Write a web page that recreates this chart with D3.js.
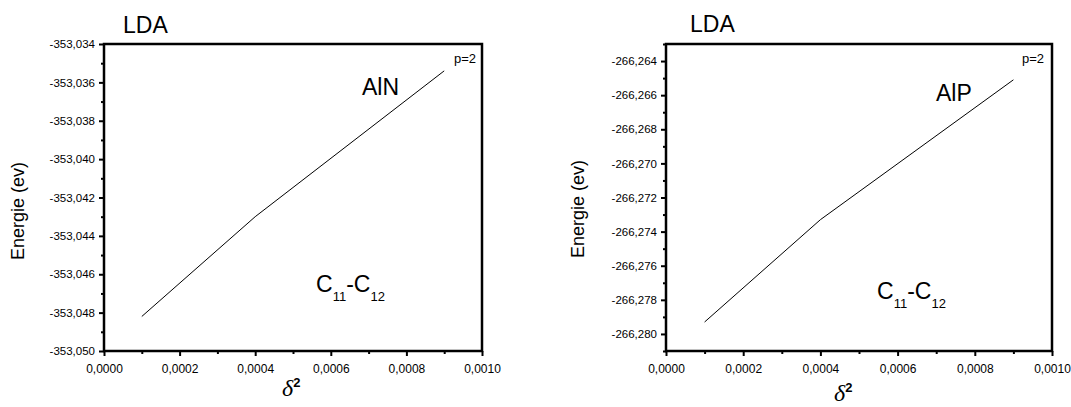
<!DOCTYPE html>
<html>
<head>
<meta charset="utf-8">
<script src="https://cdn.jsdelivr.net/npm/d3@7"></script>
<style>
  html, body { margin: 0; padding: 0; background: #fff; }
  svg { display: block; }
  text { font-family: "Liberation Sans", Arial, sans-serif; fill: #000; }
</style>
</head>
<body>
<svg id="chart" width="1071" height="407"></svg>
<script>
// Strain energy vs delta^2 (C11 - C12 deformation), LDA, p = 2
const deltaSq = [0.0001, 0.0004, 0.0009];
const energyAlN = [-353.0482, -353.0430, -353.0354];
const energyAlP = [-266.2793, -266.2733, -266.2651];

const xTicks = [0, 0.0002, 0.0004, 0.0006, 0.0008, 0.0010];
const xMinor = [0.0001, 0.0003, 0.0005, 0.0007, 0.0009];
const yTicksAlN = [-353.050, -353.048, -353.046, -353.044, -353.042, -353.040, -353.038, -353.036, -353.034];
const yMinorAlN = [-353.049, -353.047, -353.045, -353.043, -353.041, -353.039, -353.037, -353.035];
const yTicksAlP = [-266.280, -266.278, -266.276, -266.274, -266.272, -266.270, -266.268, -266.266, -266.264];
const yMinorAlP = [-266.281, -266.279, -266.277, -266.275, -266.273, -266.271, -266.269, -266.267, -266.265, -266.263];

const locale = d3.formatLocale({ decimal: ",", thousands: ".", grouping: [3], currency: ["", ""], minus: "-" });
const fmtY = locale.format(".3f");
const fmtX = locale.format(".4f");

const svg = d3.select("#chart");

const panels = [
  {
    left: 104, right: 482, top: 44, bottom: 351,
    yDomain: [-353.050, -353.034], yTicks: yTicksAlN, yMinor: yMinorAlN,
    values: energyAlN, name: "AlN",
    title: [123, 32.5], nameAt: [362, 95], pAt: [454, 62.5], cAt: [316, 291.5],
    yLabelX: 24, yLabelY: 211, deltaAt: [282, 396]
  },
  {
    left: 666, right: 1052, top: 44, bottom: 351,
    yDomain: [-266.281, -266.263], yTicks: yTicksAlP, yMinor: yMinorAlP,
    values: energyAlP, name: "AlP",
    title: [690, 32], nameAt: [936, 100.5], pAt: [1022, 63], cAt: [877, 298.5],
    yLabelX: 584, yLabelY: 209, deltaAt: [834, 401]
  }
];

panels.forEach(p => {
  const x = d3.scaleLinear().domain([0, 0.001]).range([p.left, p.right]);
  const y = d3.scaleLinear().domain(p.yDomain).range([p.bottom, p.top]);
  const g = svg.append("g");

  // minor ticks
  g.append("g")
    .attr("transform", `translate(0,${p.bottom})`)
    .call(d3.axisBottom(x).tickValues(xMinor).tickSize(3).tickFormat(""))
    .call(a => a.select(".domain").remove())
    .call(a => a.selectAll("line").attr("stroke-width", 2));
  g.append("g")
    .attr("transform", `translate(${p.left},0)`)
    .call(d3.axisLeft(y).tickValues(p.yMinor).tickSize(3).tickFormat(""))
    .call(a => a.select(".domain").remove())
    .call(a => a.selectAll("line").attr("stroke-width", 2));

  // major ticks with labels
  g.append("g")
    .attr("transform", `translate(0,${p.bottom})`)
    .call(d3.axisBottom(x).tickValues(xTicks).tickSize(5).tickPadding(8).tickFormat(fmtX))
    .call(a => a.select(".domain").remove())
    .call(a => a.selectAll("line").attr("stroke-width", 2))
    .call(a => a.selectAll("text").attr("font-size", 12).attr("fill", "#111")
      .attr("font-family", "'Liberation Sans', Arial, sans-serif"));
  g.append("g")
    .attr("transform", `translate(${p.left},0)`)
    .call(d3.axisLeft(y).tickValues(p.yTicks).tickSize(5).tickPadding(4).tickFormat(fmtY))
    .call(a => a.select(".domain").remove())
    .call(a => a.selectAll("line").attr("stroke-width", 2))
    .call(a => a.selectAll("text").attr("font-size", 11.5).attr("fill", "#111")
      .attr("font-family", "'Liberation Sans', Arial, sans-serif"));

  // frame
  g.append("rect")
    .attr("x", p.left).attr("y", p.top)
    .attr("width", p.right - p.left).attr("height", p.bottom - p.top)
    .attr("fill", "none").attr("stroke", "#000").attr("stroke-width", 2.5);

  // energy curve
  const line = d3.line().x((d, i) => x(deltaSq[i])).y(d => y(d));
  g.append("path")
    .datum(p.values)
    .attr("d", line)
    .attr("fill", "none").attr("stroke", "#000").attr("stroke-width", 1);

  // annotations
  g.append("text").attr("x", p.title[0]).attr("y", p.title[1])
    .attr("font-size", 23).text("LDA");
  g.append("text").attr("x", p.nameAt[0]).attr("y", p.nameAt[1])
    .attr("font-size", 23).text(p.name);
  g.append("text").attr("x", p.pAt[0]).attr("y", p.pAt[1])
    .attr("font-size", 13).text("p=2");

  const c = g.append("text").attr("x", p.cAt[0]).attr("y", p.cAt[1]).attr("font-size", 23);
  c.append("tspan").text("C");
  c.append("tspan").attr("font-size", 13).attr("dy", 9).text("11");
  c.append("tspan").attr("dy", -9).text("-C");
  c.append("tspan").attr("font-size", 13).attr("dy", 9).text("12");

  // axis titles
  g.append("text")
    .attr("transform", `translate(${p.yLabelX},${p.yLabelY}) rotate(-90)`)
    .attr("text-anchor", "middle").attr("font-size", 18)
    .text("Energie (ev)");

  const dl = g.append("text").attr("x", p.deltaAt[0]).attr("y", p.deltaAt[1]);
  dl.append("tspan").attr("font-family", "'Liberation Serif', 'Times New Roman', serif")
    .attr("font-style", "italic").attr("font-size", 24).text("δ");
  dl.append("tspan").attr("font-weight", "bold").attr("font-size", 13)
    .attr("dy", -9).text("2");
});
</script>
</body>
</html>
